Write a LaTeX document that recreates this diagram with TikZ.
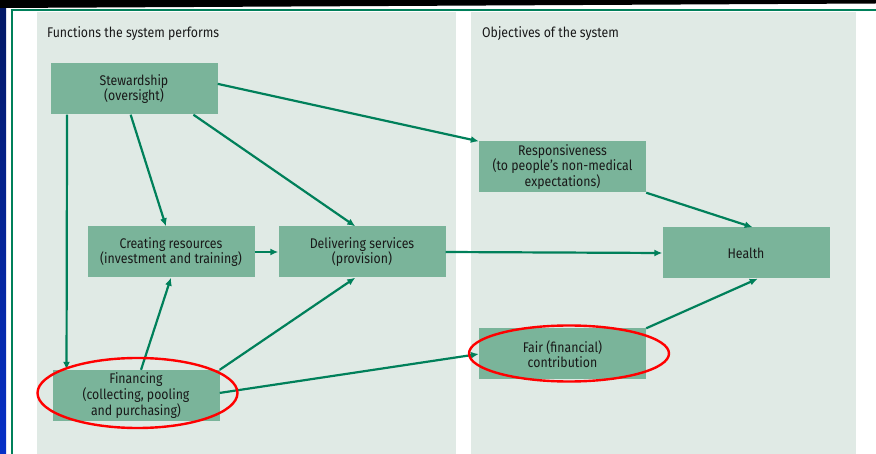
\documentclass[tikz,border=0pt]{standalone}
\usepackage{fontspec}
\setmainfont{Fira Sans}[FakeStretch=0.88]
\usetikzlibrary{arrows.meta,calc,positioning}
\definecolor{boxgreen}{HTML}{7AB49A}
\definecolor{linegreen}{HTML}{00805A}
\definecolor{panelgreen}{HTML}{E0EAE5}
\definecolor{slideblue}{HTML}{0630C8}

\begin{document}
\begin{tikzpicture}[x=1pt,y=-1pt,
  func/.style={fill=boxgreen, minimum width=167pt, minimum height=51pt, inner sep=0pt,
    align=center, text=black!90, font=\fontsize{14}{14.5}\selectfont},
  flow/.style={linegreen, line width=2.2pt, -{Latex[length=8pt,width=7pt]}},
  ring/.style={red, line width=2.4pt},
  heading/.style={anchor=base west, inner sep=0pt, text=black!90, font=\fontsize{14}{14.5}\selectfont}]
 \useasboundingbox (0,0) rectangle (876,454);

    % draw slide background
    \fill[white] (0,0) rectangle (876,454);
    \shade[top color=slideblue!50!black, bottom color=slideblue] (0,0) rectangle (6,454);
    \fill[black] (0,0) -- (876,0) -- (876,3.5) -- (0,8) -- cycle;
    \draw[linegreen, line width=1.6pt] (876,10) -- (12,10) -- (12,454);

    % draw panels
    \fill[panelgreen] (37,12) rectangle (456,454);
    \fill[panelgreen] (471,12) rectangle (856,454);
    \node[heading] (fhead) at (47,38) {Functions the system performs};
    \node[heading] (ohead) at (482,38) {Objectives of the system};

    % functions
    \node[func] (stew) at (134,89) {Stewardship\\(oversight)};
    \node[func] (create) at (171,252) {Creating resources\\(investment and training)};
    \node[func] (deliver) at (362,252) {Delivering services\\(provision)};
    \node[func] (fin) at (136,395.5) {Financing\\(collecting, pooling\\and purchasing)};

    % objectives
    \node[func] (resp) at (562.5,167) {Responsiveness\\(to people's non-medical\\expectations)};
    \node[func] (health) at (746,253) {Health};
    \node[func] (fair) at (562.5,354) {Fair (financial)\\contribution};

    % draw arrows
    \draw[flow] ($(stew.north east)!0.4!(stew.south east)$) -- (resp.north west);
    \draw[flow] ($(stew.south west)!0.855!(stew.south east)$) -- ($(deliver.north west)!0.46!(deliver.north east)$);
    \draw[flow] ($(stew.south west)!0.48!(stew.south east)$) -- ($(create.north west)!0.47!(create.north east)$);
    \draw[flow] ($(stew.south west)!0.1!(stew.south east)$) -- ($(fin.north west)!0.085!(fin.north east)$);
    \draw[flow] (create.east) -- (deliver.west);
    \draw[flow] ($(fin.north west)!0.53!(fin.north east)$) -- ($(create.south west)!0.5!(create.south east)$);
    \draw[flow] (fin.north east) -- ($(deliver.south west)!0.46!(deliver.south east)$);
    \draw[flow] ($(fin.north east)!0.45!(fin.south east)$) -- (fair.west);
    \draw[flow] (deliver.east) -- (health.west);
    \draw[flow] (resp.south east) -- ($(health.north west)!0.54!(health.north east)$);
    \draw[flow] (fair.north east) -- ($(health.south west)!0.57!(health.south east)$);

    % red rings
    \draw[ring] (fin.center) ++(1.5,-2.5) ellipse [x radius=100, y radius=35];
    \draw[ring] (fair.center) ++(6.5,-0.5) ellipse [x radius=100, y radius=28];
\end{tikzpicture}
\end{document}
